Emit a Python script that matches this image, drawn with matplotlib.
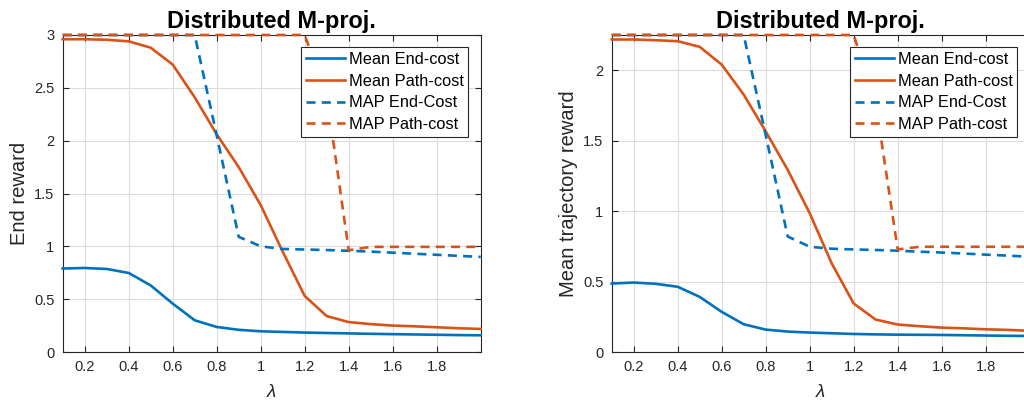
import numpy as np
import matplotlib
matplotlib.use("Agg")
import matplotlib.pyplot as plt

# MATLAB-like look
plt.rcParams['font.family'] = ['Liberation Sans', 'DejaVu Sans']
plt.rcParams['lines.scale_dashes'] = False

# lambda values
lambdas = [0.1, 0.2, 0.3, 0.4, 0.5, 0.6, 0.7, 0.8, 0.9, 1.0,
           1.1, 1.2, 1.3, 1.4, 1.5, 1.6, 1.7, 1.8, 1.9, 2.0]
x_ticks = [0.2, 0.4, 0.6, 0.8, 1.0, 1.2, 1.4, 1.6, 1.8]
x_tick_labels = ["0.2", "0.4", "0.6", "0.8", "1", "1.2", "1.4", "1.6", "1.8"]

# left panel: end reward
end_mean_end = [0.79, 0.795, 0.786, 0.748, 0.63, 0.458, 0.30, 0.237, 0.21, 0.196,
                0.19, 0.184, 0.180, 0.176, 0.172, 0.169, 0.166, 0.163, 0.160, 0.158]
end_mean_path = [2.96, 2.96, 2.955, 2.94, 2.88, 2.72, 2.41, 2.06, 1.75, 1.39,
                 0.95, 0.53, 0.34, 0.283, 0.264, 0.25, 0.243, 0.234, 0.225, 0.218]
end_map_end = [3.0, 3.0, 3.0, 3.0, 3.0, 3.0, 3.0, 2.05, 1.09, 1.0,
               0.975, 0.97, 0.965, 0.958, 0.95, 0.94, 0.93, 0.92, 0.91, 0.90]
end_map_path = [3.0, 3.0, 3.0, 3.0, 3.0, 3.0, 3.0, 3.0, 3.0, 3.0,
                3.0, 3.0, 2.43, 0.963, 0.995, 0.995, 0.995, 0.995, 0.995, 0.995]

# right panel: mean trajectory reward
traj_mean_end = [0.486, 0.493, 0.484, 0.463, 0.391, 0.285, 0.197, 0.159, 0.145, 0.138,
                 0.133, 0.128, 0.125, 0.123, 0.122, 0.121, 0.119, 0.117, 0.115, 0.114]
traj_mean_path = [2.218, 2.218, 2.213, 2.206, 2.166, 2.04, 1.827, 1.566, 1.293, 0.985,
                  0.629, 0.344, 0.23, 0.195, 0.183, 0.173, 0.168, 0.161, 0.157, 0.150]
traj_map_end = [2.25, 2.25, 2.25, 2.25, 2.25, 2.25, 2.25, 1.54, 0.82, 0.747,
                0.733, 0.728, 0.724, 0.719, 0.712, 0.706, 0.699, 0.691, 0.684, 0.676]
traj_map_path = [2.25, 2.25, 2.25, 2.25, 2.25, 2.25, 2.25, 2.25, 2.25, 2.25,
                 2.25, 2.25, 1.77, 0.728, 0.747, 0.747, 0.747, 0.747, 0.747, 0.747]

legend_labels = ["Mean End-cost", "Mean Path-cost", "MAP End-Cost", "MAP Path-cost"]

blue = "#0072BD"
orange = "#D95319"
lw = 1.9
dash = (6.5, 4.5)


# Draws one panel in MATLAB style
def draw_panel(ax, series, ylim, yticks, yticklabels, ylabel):
    mean_end, mean_path, map_end, map_path = series

    ax.plot(lambdas, mean_end, color=blue, lw=lw, clip_on=False, zorder=3)
    ax.plot(lambdas, mean_path, color=orange, lw=lw, clip_on=False, zorder=3)
    ax.plot(lambdas, map_end, color=blue, lw=lw, dashes=dash, clip_on=False, zorder=3)
    ax.plot(lambdas, map_path, color=orange, lw=lw, dashes=dash, clip_on=False, zorder=3)

    ax.set_xlim(0.1, 2.0)
    ax.set_ylim(*ylim)
    ax.set_xticks(x_ticks)
    ax.set_xticklabels(x_tick_labels)
    ax.set_yticks(yticks)
    ax.set_yticklabels(yticklabels)

    ax.grid(True, color="#dcdcdc", lw=0.8)
    ax.set_axisbelow(True)
    ax.tick_params(direction='in', length=4, width=0.8, top=True, right=True,
                   labelsize=10.5, colors="#262626", pad=6)
    for sp in ax.spines.values():
        sp.set_color("#262626")
        sp.set_linewidth(0.8)

    ax.set_title("Distributed M-proj.", fontsize=16.9, fontweight='bold', pad=5)
    ax.set_xlabel("λ", fontsize=13.5, fontstyle='italic', color="#262626", labelpad=7)
    ax.set_ylabel(ylabel, fontsize=14.5, color="#262626", labelpad=3.5)

    leg = ax.legend(legend_labels, loc='upper right', fontsize=11.8, fancybox=False,
                    framealpha=1, edgecolor="#262626", handlelength=2.4,
                    borderaxespad=0.75, labelspacing=0.4, borderpad=0.3,
                    handletextpad=0.2)
    leg.get_frame().set_linewidth(0.8)


fig = plt.figure(figsize=(10.24, 4.03), dpi=100)

ax1 = fig.add_axes([62.7 / 1024, 51 / 403, 418 / 1024, 317 / 403])
draw_panel(ax1, (end_mean_end, end_mean_path, end_map_end, end_map_path),
           (0, 3), [0, 0.5, 1, 1.5, 2, 2.5, 3],
           ["0", "0.5", "1", "1.5", "2", "2.5", "3"], "End reward")

ax2 = fig.add_axes([611.7 / 1024, 51 / 403, 418 / 1024, 317 / 403])
draw_panel(ax2, (traj_mean_end, traj_mean_path, traj_map_end, traj_map_path),
           (0, 2.25), [0, 0.5, 1, 1.5, 2],
           ["0", "0.5", "1", "1.5", "2"], "Mean trajectory reward")

plt.savefig("out.png", dpi=100)
